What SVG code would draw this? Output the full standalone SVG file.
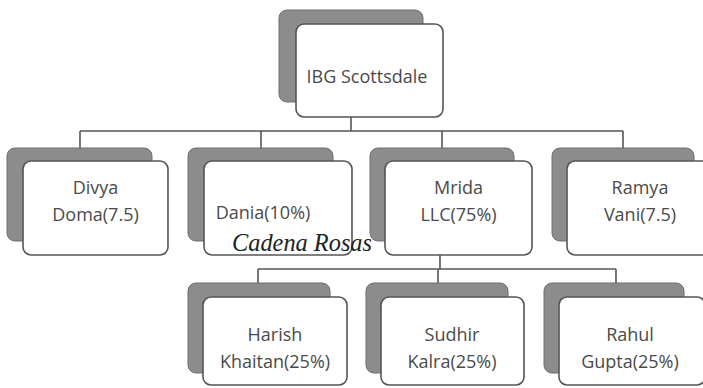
<svg xmlns="http://www.w3.org/2000/svg" width="703" height="388" viewBox="0 0 703 388">
<style>
.bk{fill:#8c8c8c;stroke:#6e6e6e;stroke-width:1}
.fr{fill:#fff;stroke:#555;stroke-width:1.6}
.t{font-family:"Open Sans","Liberation Sans",sans-serif;font-size:18px;fill:#4a4a4a;text-anchor:middle}
.hw{font-family:"Liberation Serif",serif;font-style:italic;font-size:25px;fill:#222}
.c{fill:none;stroke:#555;stroke-width:1.6}
</style>
<rect width="703" height="388" fill="#fff"/>
<g id="connectors">
<path class="c" d="M351,100V131M80,131H623M80,131V148M261,131V148M442,131V148M623,131V148"/>
<path class="c" d="M440,241V269M258,269H616M258,269V283M438,269V283M616,269V283"/>
</g>
<g id="ibg">
<rect class="bk" x="279" y="10" width="144" height="92" rx="8"/>
<rect class="fr" x="296" y="24" width="147" height="93" rx="8"/>
<text class="t" x="367" y="83">IBG Scottsdale</text>
</g>
<g id="divya">
<rect class="bk" x="7" y="148" width="145" height="93" rx="8"/>
<rect class="fr" x="23" y="161" width="145" height="94" rx="8"/>
<text class="t" x="95.5" y="194">Divya</text>
<text class="t" x="95.5" y="221">Doma(7.5)</text>
</g>
<g id="dania">
<rect class="bk" x="188" y="148" width="145" height="93" rx="8"/>
<rect class="fr" x="204" y="161" width="148" height="94" rx="8"/>
<text class="t" x="263" y="219">Dania(10%)</text>
<text class="hw" x="232" y="251" textLength="140" lengthAdjust="spacingAndGlyphs">Cadena Rosas</text>
</g>
<g id="mrida">
<rect class="bk" x="370" y="148" width="144" height="93" rx="8"/>
<rect class="fr" x="385" y="161" width="147" height="94" rx="8"/>
<text class="t" x="458.5" y="194">Mrida</text>
<text class="t" x="458.5" y="221">LLC(75%)</text>
</g>
<g id="ramya">
<rect class="bk" x="552" y="148" width="142" height="93" rx="8"/>
<rect class="fr" x="567" y="161" width="147" height="94" rx="8"/>
<text class="t" x="640" y="194">Ramya</text>
<text class="t" x="640" y="221">Vani(7.5)</text>
</g>
<g id="harish">
<rect class="bk" x="188" y="283" width="142" height="90" rx="8"/>
<rect class="fr" x="203" y="297" width="144" height="88" rx="8"/>
<text class="t" x="275" y="341">Harish</text>
<text class="t" x="275" y="368">Khaitan(25%)</text>
</g>
<g id="sudhir">
<rect class="bk" x="366" y="283" width="142" height="90" rx="8"/>
<rect class="fr" x="381" y="297" width="143" height="88" rx="8"/>
<text class="t" x="452" y="341">Sudhir</text>
<text class="t" x="452" y="368">Kalra(25%)</text>
</g>
<g id="rahul">
<rect class="bk" x="544" y="283" width="140" height="90" rx="8"/>
<rect class="fr" x="559" y="297" width="146" height="88" rx="8"/>
<text class="t" x="630" y="341">Rahul</text>
<text class="t" x="630" y="368">Gupta(25%)</text>
</g>
</svg>
